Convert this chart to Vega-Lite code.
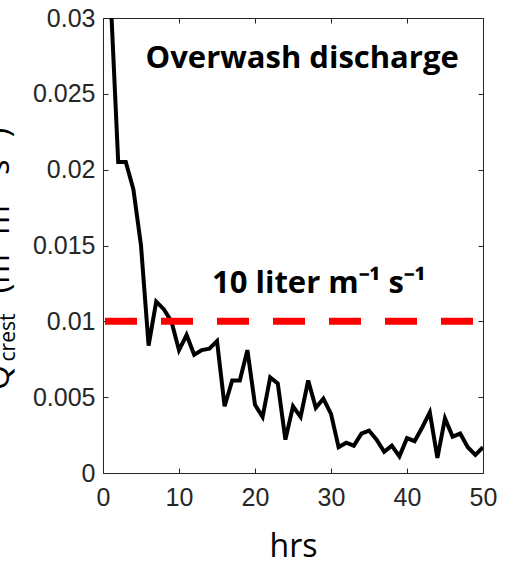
{
  "$schema": "https://vega.github.io/schema/vega-lite/v6.json",
  "width": 380,
  "height": 455,
  "autosize": "none",
  "padding": {"left": 103, "top": 18, "right": 22, "bottom": 89},
  "background": "white",
  "config": {
    "view": {"stroke": null},
    "axis": {
      "grid": false,
      "domainColor": "#262626",
      "domainWidth": 1,
      "tickColor": "#262626",
      "tickWidth": 1,
      "labelFont": "Liberation Sans",
      "labelFontSize": 25,
      "labelColor": "#262626",
      "titleFont": "Open Sans",
      "titleFontWeight": "normal",
      "titleColor": "black"
    }
  },
  "datasets": {
    "series": [
      {"hrs": 1, "q": 0.0314}, {"hrs": 2, "q": 0.0205}, {"hrs": 3, "q": 0.0205},
      {"hrs": 4, "q": 0.0187}, {"hrs": 5, "q": 0.015}, {"hrs": 6, "q": 0.0084},
      {"hrs": 7, "q": 0.0113}, {"hrs": 8, "q": 0.0108}, {"hrs": 9, "q": 0.01},
      {"hrs": 10, "q": 0.0081}, {"hrs": 11, "q": 0.0091}, {"hrs": 12, "q": 0.0078},
      {"hrs": 13, "q": 0.0081}, {"hrs": 14, "q": 0.0082}, {"hrs": 15, "q": 0.0087},
      {"hrs": 16, "q": 0.0044}, {"hrs": 17, "q": 0.0061}, {"hrs": 18, "q": 0.0061},
      {"hrs": 19, "q": 0.0081}, {"hrs": 20, "q": 0.0045}, {"hrs": 21, "q": 0.0037},
      {"hrs": 22, "q": 0.0063}, {"hrs": 23, "q": 0.0059}, {"hrs": 24, "q": 0.0022},
      {"hrs": 25, "q": 0.0044}, {"hrs": 26, "q": 0.0037}, {"hrs": 27, "q": 0.0061},
      {"hrs": 28, "q": 0.0043}, {"hrs": 29, "q": 0.0049}, {"hrs": 30, "q": 0.0039},
      {"hrs": 31, "q": 0.0017}, {"hrs": 32, "q": 0.002}, {"hrs": 33, "q": 0.0018},
      {"hrs": 34, "q": 0.0026}, {"hrs": 35, "q": 0.0028}, {"hrs": 36, "q": 0.0022},
      {"hrs": 37, "q": 0.0014}, {"hrs": 38, "q": 0.0018}, {"hrs": 39, "q": 0.0011},
      {"hrs": 40, "q": 0.0023}, {"hrs": 41, "q": 0.0021}, {"hrs": 42, "q": 0.003},
      {"hrs": 43, "q": 0.004}, {"hrs": 44, "q": 0.001}, {"hrs": 45, "q": 0.0036},
      {"hrs": 46, "q": 0.0024}, {"hrs": 47, "q": 0.0026}, {"hrs": 48, "q": 0.0017},
      {"hrs": 49, "q": 0.0012}, {"hrs": 50, "q": 0.0017}
    ],
    "threshold": [{"from": 0, "to": 50, "q": 0.01}],
    "title1": [{"label": "Overwash discharge", "hrs": 26.2, "q": 0.0267}],
    "title2": [{"label": "10 liter m⁻¹ s⁻¹", "hrs": 28.4, "q": 0.0119}]
  },
  "layer": [
    {
      "data": {"name": "series"},
      "mark": {"type": "line", "color": "black", "strokeWidth": 4, "clip": true},
      "encoding": {
        "x": {
          "field": "hrs", "type": "quantitative",
          "scale": {"domain": [0, 50], "nice": false},
          "axis": {
            "orient": "bottom", "values": [0, 10, 20, 30, 40, 50],
            "tickSize": -5, "labelPadding": 17, "labelFlush": false,
            "title": "hrs", "titleFontSize": 32, "titleY": 83, "titleBaseline": "alphabetic"
          }
        },
        "y": {
          "field": "q", "type": "quantitative",
          "scale": {"domain": [0, 0.03], "nice": false},
          "axis": {
            "orient": "left", "values": [0, 0.005, 0.01, 0.015, 0.02, 0.025, 0.03],
            "format": "~g", "tickSize": -5, "labelPadding": 13, "labelFlush": false,
            "title": "Q", "titleFontSize": 32, "titleAngle": -90,
            "titleX": -95, "titleY": 359, "titleAlign": "center", "titleBaseline": "alphabetic"
          }
        }
      }
    },
    {
      "data": {"name": "threshold"},
      "mark": {"type": "rule", "color": "#ff0000", "strokeWidth": 7, "strokeDash": [32, 24], "strokeDashOffset": 54, "strokeCap": "butt"},
      "encoding": {
        "x": {
          "field": "from", "type": "quantitative",
          "scale": {"domain": [0, 50], "nice": false},
          "axis": {"orient": "top", "values": [0, 10, 20, 30, 40, 50], "labels": false, "title": null, "tickSize": -5}
        },
        "x2": {"field": "to"},
        "y": {
          "field": "q", "type": "quantitative",
          "scale": {"domain": [0, 0.03], "nice": false},
          "axis": {"orient": "right", "values": [0, 0.005, 0.01, 0.015, 0.02, 0.025, 0.03], "labels": false, "title": null, "tickSize": -5}
        }
      }
    },
    {
      "data": {"name": "title1"},
      "mark": {"type": "text", "font": "Open Sans", "fontWeight": "bold", "fontSize": 31, "color": "black", "align": "center", "baseline": "alphabetic"},
      "encoding": {
        "text": {"field": "label"},
        "x": {"field": "hrs", "type": "quantitative", "scale": {"domain": [0, 50], "nice": false}, "axis": null},
        "y": {
          "field": "q", "type": "quantitative",
          "scale": {"domain": [0, 0.03], "nice": false},
          "axis": {
            "orient": "left", "labels": false, "ticks": false, "domain": false,
            "title": "crest", "titleFontSize": 21, "titleAngle": -90,
            "titleX": -89, "titleY": 319, "titleAlign": "center", "titleBaseline": "alphabetic"
          }
        }
      }
    },
    {
      "data": {"name": "title2"},
      "mark": {"type": "text", "font": "Open Sans", "fontWeight": "bold", "fontSize": 31, "color": "black", "align": "center", "baseline": "alphabetic"},
      "encoding": {
        "text": {"field": "label"},
        "x": {"field": "hrs", "type": "quantitative", "scale": {"domain": [0, 50], "nice": false}, "axis": null},
        "y": {
          "field": "q", "type": "quantitative",
          "scale": {"domain": [0, 0.03], "nice": false},
          "axis": {
            "orient": "left", "labels": false, "ticks": false, "domain": false,
            "title": "(m³ m⁻¹ s⁻¹)", "titleFontSize": 32, "titleAngle": -90,
            "titleX": -95, "titleY": 192, "titleAlign": "center", "titleBaseline": "alphabetic"
          }
        }
      }
    }
  ],
  "resolve": {"axis": {"x": "independent", "y": "independent"}}
}
